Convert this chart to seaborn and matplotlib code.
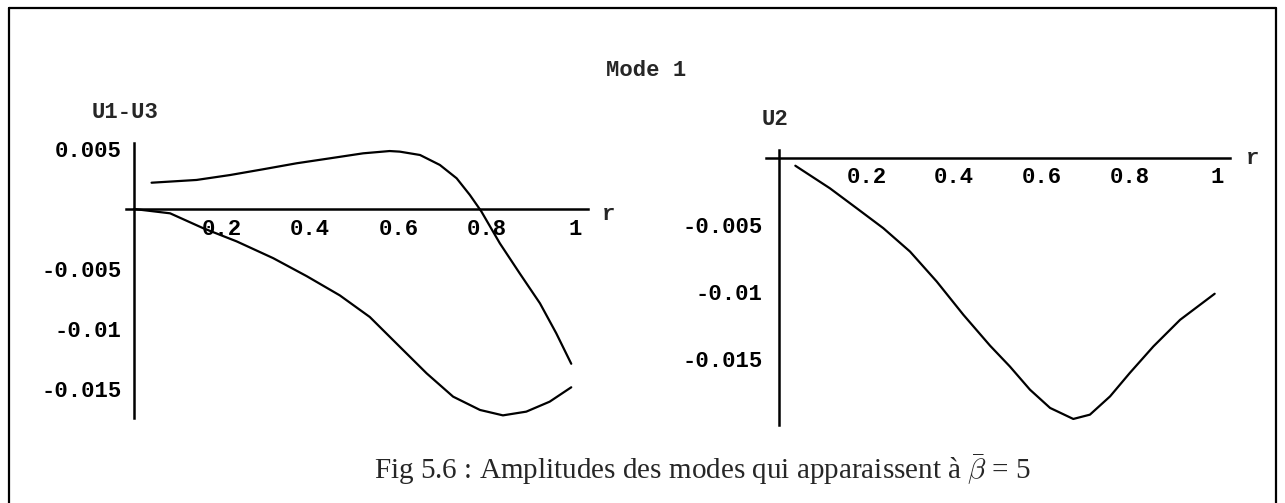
import numpy as np
import pandas as pd
import matplotlib
matplotlib.use("Agg")
import matplotlib.pyplot as plt
from matplotlib.lines import Line2D
import seaborn as sns

# ---------------- data ----------------
r_u1 = [0.04, 0.142, 0.218, 0.293, 0.369, 0.444, 0.52, 0.58, 0.603, 0.649,
        0.694, 0.732, 0.762, 0.788, 0.83, 0.875, 0.921, 0.958, 0.992]
u1 = [0.00219, 0.00242, 0.00283, 0.00331, 0.00381, 0.00422, 0.00464, 0.00483,
      0.00478, 0.0045, 0.00367, 0.00256, 0.00117, -0.0002, -0.00286, -0.00536,
      -0.00786, -0.01036, -0.0129]

r_u3 = [0.0, 0.082, 0.157, 0.233, 0.316, 0.392, 0.467, 0.535, 0.603, 0.664,
        0.724, 0.785, 0.837, 0.89, 0.943, 0.992]
u3 = [0.0, -0.00036, -0.0016, -0.0027, -0.0041, -0.0056, -0.0072, -0.009,
      -0.01148, -0.0137, -0.01564, -0.01675, -0.0172, -0.01689, -0.01606,
      -0.01486]

r_u2 = [0.037, 0.116, 0.177, 0.238, 0.299, 0.36, 0.421, 0.482, 0.527, 0.573,
        0.619, 0.672, 0.71, 0.756, 0.801, 0.855, 0.916, 0.995]
u2 = [-0.0006, -0.00228, -0.00376, -0.00525, -0.00699, -0.00922, -0.0117,
      -0.014, -0.01554, -0.01727, -0.01863, -0.01945, -0.01913, -0.01777,
      -0.01603, -0.01405, -0.01207, -0.01013]

x_ticks = [0.2, 0.4, 0.6, 0.8, 1.0]
x_tick_labels = ["0.2", "0.4", "0.6", "0.8", "1"]
left_y_ticks = [0.005, -0.005, -0.01, -0.015]
left_y_labels = ["0.005", "-0.005", "-0.01", "-0.015"]
right_y_ticks = [-0.005, -0.01, -0.015]
right_y_labels = ["-0.005", "-0.01", "-0.015"]

title = "Mode 1"
left_label = "U1-U3"
right_label = "U2"
x_label = "r"
caption = r"Fig 5.6 : Amplitudes des modes qui apparaissent à $\bar{\beta}$ = 5"

# ---------------- style ----------------
sns.set_style("white")
plt.rcParams["font.family"] = ["Liberation Mono", "DejaVu Sans Mono"]
plt.rcParams["font.weight"] = "bold"
plt.rcParams["mathtext.fontset"] = "cm"

W, H = 1285, 503
fig = plt.figure(figsize=(W / 100, H / 100), dpi=100)
fig.patch.set_facecolor("white")

def fx(px):
    return px / W

def fy(py):
    return 1 - py / H

MONO = 16

def style_axes(ax, xlim, ylim, yticks, ylabels, ypad):
    ax.set_xlim(*xlim)
    ax.set_ylim(*ylim)
    ax.set_facecolor("none")
    for s in ["top", "right"]:
        ax.spines[s].set_visible(False)
    ax.spines["left"].set_position(("data", 0))
    ax.spines["bottom"].set_position(("data", 0))
    for s in ["left", "bottom"]:
        ax.spines[s].set_linewidth(1.8)
        ax.spines[s].set_color("black")
    ax.set_xticks(x_ticks)
    ax.set_xticklabels(x_tick_labels, fontweight="bold")
    ax.set_yticks(yticks)
    ax.set_yticklabels(ylabels, fontweight="bold")
    ax.tick_params(axis="x", direction="in", length=3, width=1, pad=7,
                   labelsize=MONO, colors="black")
    ax.tick_params(axis="y", direction="in", length=4, width=1.2, pad=ypad,
                   labelsize=MONO, colors="black")
    ax.set_xlabel("")
    ax.set_ylabel("")
    ax.grid(False)

# left panel
ax1 = fig.add_axes([fx(126), fy(418), fx(588) - fx(126), fy(143) - fy(418)])
df1 = pd.DataFrame({"r": r_u1, "v": u1})
df3 = pd.DataFrame({"r": r_u3, "v": u3})
sns.lineplot(data=df1, x="r", y="v", ax=ax1, color="black", lw=1.6)
sns.lineplot(data=df3, x="r", y="v", ax=ax1, color="black", lw=1.6)
style_axes(ax1, (-0.018, 1.03), (-0.01742, 0.0055),
           left_y_ticks, left_y_labels, 9)

# right panel
ax2 = fig.add_axes([fx(766), fy(425), fx(1230) - fx(766), fy(150) - fy(425)])
df2 = pd.DataFrame({"r": r_u2, "v": u2})
sns.lineplot(data=df2, x="r", y="v", ax=ax2, color="black", lw=1.6)
style_axes(ax2, (-0.03, 1.03), (-0.0199, 0.00057),
           right_y_ticks, right_y_labels, 12)

# texts
fig.text(fx(646), fy(70), title, ha="center", va="center", fontsize=MONO)
fig.text(fx(92), fy(113), left_label, ha="left", va="center", fontsize=MONO)
fig.text(fx(762), fy(120), right_label, ha="left", va="center", fontsize=MONO)
fig.text(fx(608), fy(214), x_label, ha="center", va="center", fontsize=MONO)
fig.text(fx(1252), fy(158), x_label, ha="center", va="center", fontsize=MONO)
fig.text(fx(702), fy(470), caption, ha="center", va="center", fontsize=21,
         family=["Liberation Serif", "DejaVu Serif"], fontweight="normal")

# frame around the figure (bottom edge runs off the page)
for (x0, y0, x1, y1) in [(9, 8, 1276, 8), (9, 8, 9, 503), (1276, 8, 1276, 503)]:
    fig.add_artist(Line2D([fx(x0), fx(x1)], [fy(y0), fy(y1)],
                          transform=fig.transFigure, color="black", lw=1.6))

fig.savefig("out.png", dpi=100, facecolor="white")
